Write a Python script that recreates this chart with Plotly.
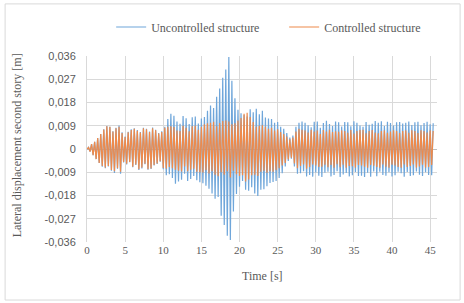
import plotly.graph_objects as go

uncontrolled_mm = [
    0, 0.6, -1.0, 1.9, -2.4,
    2.8, -3.9, 4.2, -5.4, 5.8,
    -6.9, 7.6, -7.4, 8.9, -6.8,
    8.6, -8.4, 6.9, -9.3, 8.2,
    -7.6, 9.1, -9.6, 6.5, -5.2,
    4.8, -6.0, 6.7, -5.1, 7.6,
    -7.1, 8.0, -6.2, 7.3, -8.1,
    6.6, -7.5, 8.2, -5.9, 7.8,
    -8.0, 6.8, -7.7, 8.3, -6.4,
    7.4, -5.8, 6.2, -4.9, 6.9,
    -7.8, 8.6, -10.2, 11.6, -9.8,
    13.6, -11.2, 12.9, -13.4, 10.6,
    -12.6, 9.8, -11.9, 12.8, -9.6,
    11.9, -12.4, 9.7, -11.6, 12.3,
    -10.4, 12.6, -12.1, 9.9, -12.9,
    11.8, -13.3, 12.4, -14.2, 14.8,
    -15.4, 16.8, -17.2, 15.9, -19.3,
    20.2, -18.6, 23.4, -25.8, 27.6,
    -29.4, 30.8, -33.6, 35.6, -35.2,
    26.4, -24.2, 19.6, -17.4, 15.2,
    -14.6, 13.8, -12.4, 13.2, -15.8,
    12.6, -16.2, 15.4, -14.8, 14.2,
    -17.2, 15.6, -18.2, 13.4, -15.8,
    14.8, -15.6, 12.2, -14.4, 11.8,
    -13.2, 11.6, -12.8, 10.2, -12.4,
    10.4, -11.2, 8.6, -9.4, 7.8,
    -6.8, 6.2, -4.6, 4.4, -3.8,
    5.2, -6.8, 8.6, -9.6, 10.2,
    -9.4, 10.6, -8.6, 10.2, -10.6,
    9.2, -10.1, 8.4, -10.7, 10.5,
    -9.1, 10.6, -10.3, 8.2, -10.8,
    10.1, -9.2, 10.9, -8.8, 9.7,
    -10.6, 8.9, -10.1, 10.6, -8.6,
    10.3, -10.8, 8.7, -9.9, 10.4,
    -9.3, 10.3, -10.6, 8.8, -10.2,
    10.7, -8.9, 10.2, -10.4, 9.1,
    -10.3, 8.6, -10.8, 10.4, -9.2,
    9.4, -10.7, 9.8, -8.7, 10.8,
    -10.5, 10.2, -8.8, 10.7, -10.1,
    8.9, -10.3, 10.5, -9.0, 10.1,
    -10.6, 9.1, -10.2, 10.3, -8.8,
    10.4, -9.4, 9.9, -10.7, 10.2,
    -8.9, 10.6, -10.4, 9.3, -10.2,
    10.3, -8.7, 10.5, -10.0, 9.2,
    -10.4, 10.1, -9.0, 10.5, -10.1,
    9.6, -10.2, 10.0,
]

controlled_mm = [
    0, 0.6, -1.0, 1.9, -2.4,
    2.8, -3.9, 4.2, -5.4, 5.8,
    -6.6, 7.5, -7.2, 8.8, -6.6,
    8.6, -8.1, 6.8, -8.6, 8.0,
    -7.4, 8.6, -8.8, 6.2, -5.0,
    4.6, -5.7, 6.5, -5.0, 7.3,
    -6.9, 7.8, -6.0, 7.1, -7.8,
    6.4, -7.2, 8.0, -5.7, 7.6,
    -7.8, 6.6, -7.5, 8.0, -6.2,
    7.2, -5.6, 6.0, -4.7, 6.6,
    -7.3, 8.2, -7.6, 8.6, -7.0,
    8.8, -7.4, 8.5, -8.0, 7.2,
    -8.4, 7.0, -8.7, 9.0, -6.8,
    8.2, -8.6, 6.9, -8.0, 8.8,
    -7.6, 9.0, -8.8, 7.4, -9.0,
    8.6, -9.1, 9.6, -8.2, 10.0,
    -9.5, 10.2, -8.6, 10.5, -10.0,
    8.8, -10.5, 10.1, -9.0, 10.8,
    -10.0, 11.0, -8.6, 10.6, -11.0,
    9.6, -8.4, 10.0, -9.8, 11.0,
    -10.4, 12.0, -10.2, 13.6, -12.6,
    14.0, -11.8, 12.4, -10.2, 10.4,
    -10.0, 8.6, -10.4, 9.0, -8.8,
    9.2, -8.4, 8.6, -9.2, 7.8,
    -8.6, 8.2, -8.8, 7.2, -8.2,
    7.6, -7.4, 6.6, -6.4, 5.8,
    -5.4, 4.8, -4.0, 3.8, -3.4,
    4.4, -5.6, 6.8, -7.4, 7.8,
    -6.6, 7.4, -6.0, 7.2, -7.6,
    6.4, -7.0, 7.4, -6.0, 6.8,
    -6.4, 7.2, -7.0, 5.8, -6.9,
    7.3, -6.1, 6.8, -7.1, 7.4,
    -6.2, 6.6, -7.2, 6.9, -5.9,
    6.7, -7.1, 7.2, -6.1, 7.0,
    -7.2, 6.3, -6.6, 7.3, -6.7,
    6.0, -7.2, 7.0, -6.2, 7.3,
    -6.4, 7.4, -6.9, 6.1, -7.2,
    7.0, -6.2, 7.3, -6.5, 6.4,
    -7.0, 6.1, -7.2, 7.0, -6.0,
    7.2, -6.9, 6.3, -7.2, 6.8,
    -6.1, 7.2, -6.4, 7.0, -7.0,
    6.2, -7.2, 7.0, -6.0, 7.2,
    -7.0, 6.3, -6.6, 7.2, -6.0,
    7.0, -7.2, 6.2, -6.8, 7.2,
    -6.1, 7.0, -7.2, 6.4, -7.0,
    7.2, -6.2, 7.0,
]

SAMPLE_STEP_S = 0.2
time_s = [round(i * SAMPLE_STEP_S, 1) for i in range(len(uncontrolled_mm))]
uncontrolled_m = [v / 1000 for v in uncontrolled_mm]
controlled_m = [v / 1000 for v in controlled_mm]

y_tick_vals = [0.036, 0.027, 0.018, 0.009, 0, -0.009, -0.018, -0.027, -0.036]
y_tick_text = ["0,036", "0,027", "0,018", "0,009", "0", "-0,009", "-0,018", "-0,027", "-0,036"]
x_tick_vals = [0, 5, 10, 15, 20, 25, 30, 35, 40, 45]

serif = "Liberation Serif, Times New Roman, serif"
sans = "Liberation Sans, Arial, sans-serif"
grey_text = "#595959"

fig = go.Figure()
fig.add_trace(go.Scatter(x=time_s, y=uncontrolled_m, mode="lines",
                         name="Uncontrolled structure",
                         line=dict(color="#6FA6DA", width=1.2)))
fig.add_trace(go.Scatter(x=time_s, y=controlled_m, mode="lines",
                         name="Controlled structure",
                         line=dict(color="#EE8A4B", width=1.2)))

fig.update_layout(
    width=464, height=303,
    margin=dict(l=87, r=27, t=56, b=61, autoexpand=False),
    paper_bgcolor="white", plot_bgcolor="white",
    showlegend=True,
    legend=dict(orientation="h", x=0.069, xanchor="left", y=1.156, yanchor="middle",
                font=dict(family=serif, size=12, color=grey_text),
                itemwidth=30, entrywidth=128, entrywidthmode="pixels",
                bgcolor="rgba(0,0,0,0)"),
    shapes=[dict(type="rect", xref="paper", yref="paper",
                 x0=-0.234, x1=1.066, y0=-0.312, y1=1.28,
                 line=dict(color="#d9d9d9", width=1), layer="below")],
    annotations=[
        dict(text="Time [s]", xref="paper", yref="paper", x=0.5, y=-0.183,
             xanchor="center", yanchor="middle", showarrow=False,
             font=dict(family=serif, size=12, color=grey_text)),
        dict(text="Lateral displacement second story [m]", xref="paper", yref="paper",
             x=-0.2, y=0.52, xanchor="center", yanchor="middle", textangle=-90,
             showarrow=False, font=dict(family=serif, size=12, color=grey_text)),
    ],
)
fig.update_xaxes(range=[0, 45.9], tickvals=x_tick_vals, automargin=False,
                 showgrid=True, gridcolor="#d9d9d9", gridwidth=1,
                 zeroline=False, showline=False, ticks="",
                 tickfont=dict(family=serif, size=11, color=grey_text))
fig.update_yaxes(range=[-0.036, 0.036], tickvals=y_tick_vals, ticktext=y_tick_text,
                 automargin=False, ticklabelstandoff=8,
                 showgrid=True, gridcolor="#d9d9d9", gridwidth=1,
                 zeroline=True, zerolinecolor="#bfbfbf", zerolinewidth=1,
                 showline=True, linecolor="#d9d9d9", linewidth=1, ticks="",
                 tickfont=dict(family=sans, size=11, color=grey_text))

fig.write_html("out.html", config={"displayModeBar": False},
               post_script="document.body.style.margin='0';")
